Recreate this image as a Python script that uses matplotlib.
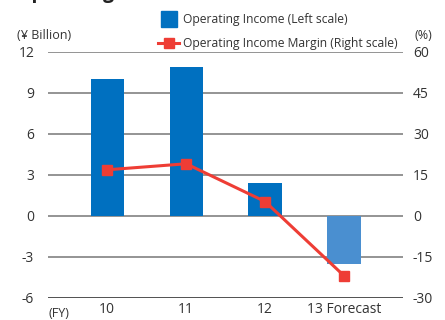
import matplotlib.pyplot as plt
from matplotlib.lines import Line2D

plt.rcParams['font.family'] = ['Open Sans', 'DejaVu Sans']

# Operating income (¥ billion) and margin (%) by fiscal year
years = ['10', '11', '12', '13 Forecast']
income = [10.0, 10.9, 2.4, -3.5]
margin = [16.8, 19.0, 5.2, -21.9]
bar_colors = ['#0070c0', '#0070c0', '#0070c0', '#4a8fd0']

left_ticks = [-6, -3, 0, 3, 6, 9, 12]
right_ticks = [-30, -15, 0, 15, 30, 45, 60]

blue = '#0070c0'
red = '#ee3d35'
text_col = '#333333'

fig = plt.figure(figsize=(4.45, 3.2), dpi=100)
ax = fig.add_axes([0.108, 0.069, 0.798, 0.770])

x = list(range(len(years)))
ax.bar(x, income, width=0.42, color=bar_colors, zorder=3)
ax.set_xlim(-0.75, len(years) - 0.25)
ax.set_ylim(left_ticks[0], left_ticks[-1])
ax.set_yticks(left_ticks)
ax.set_yticklabels([str(t) for t in left_ticks])
ax.set_xticks(x)
ax.set_xticklabels(years)

for t in left_ticks:
    ax.axhline(t, color='#222222' if t == left_ticks[0] else '#777777',
               lw=1.1, zorder=1)

for s in ax.spines.values():
    s.set_visible(False)
ax.tick_params(axis='both', length=0, labelsize=10, colors=text_col)
ax.tick_params(axis='y', pad=10)
ax.tick_params(axis='x', pad=3)

ax2 = ax.twinx()
ax2.plot(x, margin, color=red, lw=2.2, marker='s', markersize=7.5, zorder=4)
ax2.set_ylim(right_ticks[0], right_ticks[-1])
ax2.set_yticks(right_ticks)
ax2.set_yticklabels([str(t) for t in right_ticks])
for s in ax2.spines.values():
    s.set_visible(False)
ax2.tick_params(axis='y', length=0, labelsize=10, colors=text_col, pad=7)

# axis captions
fig.text(0.038, 0.89, '(¥ Billion)', fontsize=9, color=text_col, va='center')
fig.text(0.932, 0.89, '(%)', fontsize=9, color=text_col, va='center')
fig.text(0.108, 0.0, '(FY)', fontsize=9, color=text_col, va='bottom')

# chart title, clipped at the top edge
fig.text(0.035, 1.006, 'Operating Income', fontsize=14, fontweight='bold',
         color='#222222', va='baseline')

handles = [
    Line2D([], [], ls='none', marker='s', markersize=11.5, color=blue),
    Line2D([], [], color=red, lw=2.2, marker='s', markersize=7),
]
labels = ['Operating Income (Left scale)', 'Operating Income Margin (Right scale)']
fig.legend(handles, labels, loc='upper left', bbox_to_anchor=(0.355, 0.96),
           frameon=False, fontsize=8.7, handlelength=1.75, handletextpad=0.3,
           labelspacing=0.95, borderaxespad=0, borderpad=0,
           labelcolor=text_col)

fig.savefig('out.png', dpi=100)
